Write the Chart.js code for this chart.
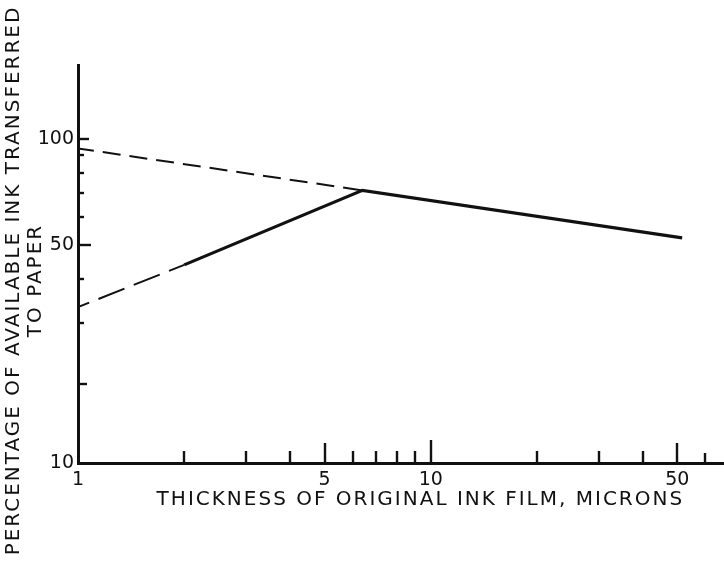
<!DOCTYPE html>
<html>
<head>
<meta charset="utf-8">
<script src="https://cdn.jsdelivr.net/npm/chart.js@4/dist/chart.umd.min.js"></script>
<style>
  html, body { margin: 0; padding: 0; background: #fff; }
  #wrap { width: 724px; height: 561px; }
</style>
</head>
<body>
<div id="wrap"><canvas id="c" width="724" height="561"></canvas></div>
<script>
// Percentage of available ink transferred to paper vs. original ink film thickness (log-log)

// Measured curve (solid)
const measuredThickness = [2, 6.4, 51.6];
const measuredTransfer = [43.8, 71.4, 52.3];
// Upper extrapolation towards thin films (dashed)
const upperExtrapThickness = [1, 6.4];
const upperExtrapTransfer = [94, 71.4];
// Lower extrapolation towards thin films (dashed)
const lowerExtrapThickness = [1, 2];
const lowerExtrapTransfer = [33.2, 43.8];

// Axes. The vertical cycle is shortened: the baseline sits a little under 12
// and carries the label "10".
const xRange = [1, 67.8];
const yRange = [11.94, 162.5];
const xTickValues = [1, 5, 10, 50];
const xTickLabels = ['1', '5', '10', '50'];
const yTickValues = [yRange[0], 50, 100];
const yTickLabels = ['10', '50', '100'];
const xMajorTicks = [5, 10, 50];
const xMinorTicks = [2, 3, 4, 6, 7, 8, 9, 20, 30, 40, 60];
const yMajorTicks = [50, 100];
const yMinorTicks = [20, 30, 40, 60, 70, 80, 90];

const xTitle = 'THICKNESS OF ORIGINAL INK FILM, MICRONS';
const yTitle = ['PERCENTAGE OF AVAILABLE INK TRANSFERRED', 'TO PAPER'];

const INK = '#111';
const FONT = 'DejaVu Sans';

const toPoints = (xs, ys) => xs.map((v, i) => ({ x: v, y: ys[i] }));

// Inward tick marks of varying length, drawn from the axis scales
const tickMarks = {
  id: 'tickMarks',
  afterDatasetsDraw(chart) {
    const { ctx, chartArea, scales: { x, y } } = chart;
    ctx.save();
    ctx.strokeStyle = INK;
    ctx.lineWidth = 2.4;
    const xLen = v => v === 10 ? 23 : (xMajorTicks.includes(v) ? 20 : (v === 60 ? 10 : 12));
    const yLen = v => v === 50 ? 13 : (v === 100 ? 11 : (v === 20 ? 9 : 6));
    [...xMajorTicks, ...xMinorTicks].forEach(v => {
      const px = Math.round(x.getPixelForValue(v));
      ctx.beginPath();
      ctx.moveTo(px, chartArea.bottom);
      ctx.lineTo(px, chartArea.bottom - xLen(v));
      ctx.stroke();
    });
    [...yMajorTicks, ...yMinorTicks].forEach(v => {
      const py = Math.round(y.getPixelForValue(v));
      ctx.beginPath();
      ctx.moveTo(chartArea.left, py);
      ctx.lineTo(chartArea.left + yLen(v), py);
      ctx.stroke();
    });
    ctx.restore();
  }
};

// Wide-lettered axis titles
const axisTitles = {
  id: 'axisTitles',
  afterDraw(chart) {
    const { ctx, chartArea, scales: { x } } = chart;
    ctx.save();
    ctx.letterSpacing = '2px';
    ctx.fillStyle = INK;
    ctx.font = `20px "${FONT}"`;
    ctx.textAlign = 'center';
    ctx.textBaseline = 'middle';
    ctx.fillText(xTitle, x.left + x.width * 0.53, chartArea.bottom + 37);
    const midY = chart.height / 2;
    yTitle.forEach((line, i) => {
      ctx.save();
      ctx.translate(14 + i * 22, midY);
      ctx.rotate(-Math.PI / 2);
      ctx.fillText(line, 0, 0);
      ctx.restore();
    });
    ctx.restore();
  }
};

new Chart(document.getElementById('c'), {
  type: 'scatter',
  data: {
    datasets: [
      {
        data: toPoints(measuredThickness, measuredTransfer),
        showLine: true,
        borderColor: INK,
        borderWidth: 3.2,
        pointRadius: 0,
        tension: 0
      },
      {
        data: toPoints(upperExtrapThickness, upperExtrapTransfer),
        showLine: true,
        borderColor: INK,
        borderWidth: 2,
        borderDash: [18, 9],
        borderDashOffset: 2,
        pointRadius: 0
      },
      {
        data: toPoints(lowerExtrapThickness, lowerExtrapTransfer),
        showLine: true,
        borderColor: INK,
        borderWidth: 2,
        borderDash: [28, 10],
        borderDashOffset: 16,
        pointRadius: 0
      }
    ]
  },
  options: {
    responsive: false,
    animation: false,
    events: [],
    layout: { padding: { top: 65, right: 0, bottom: 0, left: 0 } },
    plugins: { legend: { display: false }, tooltip: { enabled: false }, title: { display: false } },
    scales: {
      x: {
        type: 'logarithmic',
        min: xRange[0],
        max: xRange[1],
        grid: { display: false, drawTicks: false },
        border: { display: true, color: INK, width: 3 },
        afterBuildTicks: s => { s.ticks = xTickValues.map(v => ({ value: v })); },
        afterFit: s => { s.height = 98; },
        ticks: {
          autoSkip: false,
          maxRotation: 0,
          padding: 6,
          color: INK,
          font: { family: FONT, size: 19 },
          callback: (v, i) => xTickLabels[i]
        }
      },
      y: {
        type: 'logarithmic',
        min: yRange[0],
        max: yRange[1],
        grid: { display: false, drawTicks: false },
        border: { display: true, color: INK, width: 3 },
        afterBuildTicks: s => { s.ticks = yTickValues.map(v => ({ value: v })); },
        afterFit: s => { s.width = 78; },
        ticks: {
          autoSkip: false,
          padding: 4,
          color: INK,
          font: { family: FONT, size: 19 },
          callback: (v, i) => yTickLabels[i]
        }
      }
    }
  },
  plugins: [tickMarks, axisTitles]
});
</script>
</body>
</html>
